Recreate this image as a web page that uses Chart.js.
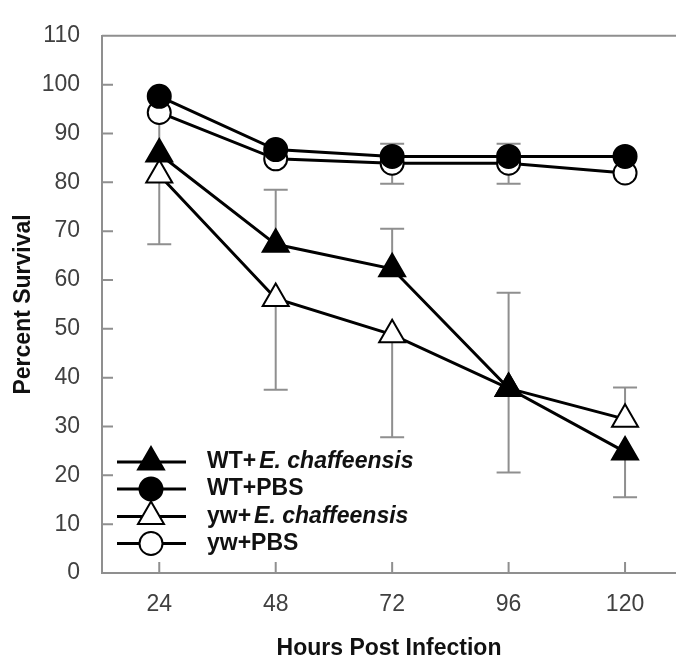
<!DOCTYPE html>
<html>
<head>
<meta charset="utf-8">
<script src="https://cdn.jsdelivr.net/npm/chart.js@4.4.1/dist/chart.umd.min.js"></script>
<style>
  body { margin: 0; background: #fff; }
  canvas { display: block; }
</style>
</head>
<body>
<canvas id="grafico" width="676" height="660"></canvas>
<script>
// Datos
const horas = [24, 48, 72, 96, 120];
const nombres = ['WT+E. chaffeensis', 'WT+PBS', 'yw+E. chaffeensis', 'yw+PBS'];

const wtEch = [85.8, 67.3, 62.3, 37.8, 24.8];
const wtPbs = [97.6, 86.7, 85.3, 85.3, 85.3];
const ywEch = [81.5, 56.2, 48.8, 37.8, 31.5];
const ywPbs = [94.3, 84.8, 83.9, 83.9, 81.9];

// Barras de error (solo se ven hacia un lado en la figura)
const wtEchMas = [0, 11.2, 8.2, 19.6, 0];
const wtEchMenos = [0, 0, 0, 0, 9.3];
const wtPbsMas = [0, 0, 2.6, 2.6, 0];
const ywEchMas = [0, 0, 0, 0, 6.5];
const ywEchMenos = [14.2, 18.7, 21, 17.2, 0];
const ywPbsMenos = [9.8, 0, 4.2, 4.2, 0];

const yTicks = [0, 10, 20, 30, 40, 50, 60, 70, 80, 90, 100, 110];

const FUENTE = '"Liberation Sans", Arial, sans-serif';
const GRIS = '#8f8f8f';

function puntos(valores) {
    return horas.map((h, i) => ({ x: h, y: valores[i] }));
}

function serie(nombre, valores, estilo, relleno, radio, mas, menos) {
    return {
        label: nombre,
        data: puntos(valores),
        borderColor: '#000',
        borderWidth: 3,
        pointStyle: estilo,
        pointRadius: radio,
        pointHoverRadius: radio,
        pointBackgroundColor: relleno,
        pointBorderColor: '#000',
        pointBorderWidth: 2,
        fill: false,
        tension: 0,
        clip: false,
        errMas: mas,
        errMenos: menos
    };
}

const datasets = [
    serie(nombres[0], wtEch, 'triangle', '#000', 15, wtEchMas, wtEchMenos),
    serie(nombres[1], wtPbs, 'circle', '#000', 11.5, wtPbsMas, null),
    serie(nombres[2], ywEch, 'triangle', '#fff', 15, ywEchMas, ywEchMenos),
    serie(nombres[3], ywPbs, 'circle', '#fff', 11.5, null, ywPbsMenos)
];

// Marco superior, marcas hacia adentro y barras de error
const extras = {
    id: 'extras',
    beforeDatasetsDraw(chart) {
        const { ctx, chartArea, scales } = chart;
        const x = scales.x, y = scales.y;
        ctx.save();
        ctx.strokeStyle = GRIS;
        ctx.lineWidth = 2;
        ctx.beginPath();
        ctx.moveTo(chartArea.left, chartArea.top);
        ctx.lineTo(chartArea.right, chartArea.top);
        y.ticks.forEach(t => {
            const py = y.getPixelForValue(t.value);
            ctx.moveTo(chartArea.left, py);
            ctx.lineTo(chartArea.left + 11, py);
        });
        x.ticks.forEach(t => {
            const px = x.getPixelForValue(t.value);
            ctx.moveTo(px, chartArea.bottom);
            ctx.lineTo(px, chartArea.bottom - 11);
        });
        ctx.stroke();

        // barras de error
        ctx.beginPath();
        chart.data.datasets.forEach(ds => {
            ds.data.forEach((p, i) => {
                const px = x.getPixelForValue(p.x);
                const py = y.getPixelForValue(p.y);
                [[ds.errMas, 1], [ds.errMenos, -1]].forEach(([arr, s]) => {
                    if (!arr || !arr[i]) return;
                    const pe = y.getPixelForValue(p.y + s * arr[i]);
                    ctx.moveTo(px, py);
                    ctx.lineTo(px, pe);
                    ctx.moveTo(px - 12, pe);
                    ctx.lineTo(px + 12, pe);
                });
            });
        });
        ctx.stroke();
        ctx.restore();
    },
    afterDraw(chart) {
        // leyenda dentro del gráfico
        const { ctx } = chart;
        const filas = [462, 489, 516.5, 543.5];
        ctx.save();
        chart.data.datasets.forEach((ds, i) => {
            const yy = filas[i];
            ctx.strokeStyle = '#000';
            ctx.lineWidth = 3;
            ctx.beginPath();
            ctx.moveTo(117, yy);
            ctx.lineTo(186, yy);
            ctx.stroke();
            ctx.fillStyle = ds.pointBackgroundColor;
            ctx.strokeStyle = '#000';
            ctx.lineWidth = 2;
            Chart.helpers.drawPoint(ctx, {
                pointStyle: ds.pointStyle,
                radius: ds.pointRadius,
                borderWidth: 2,
                rotation: 0
            }, 151, yy);

            ctx.fillStyle = '#111';
            ctx.textBaseline = 'middle';
            ctx.textAlign = 'left';
            const k = ds.label.indexOf('E. chaffeensis');
            let tx = 207;
            if (k >= 0) {
                const a = ds.label.slice(0, k);
                ctx.font = 'bold 23px ' + FUENTE;
                ctx.fillText(a, tx, yy);
                tx += ctx.measureText(a).width + 3;
                ctx.font = 'italic bold 23px ' + FUENTE;
                ctx.fillText(ds.label.slice(k), tx, yy);
            } else {
                ctx.font = 'bold 23px ' + FUENTE;
                ctx.fillText(ds.label, tx, yy);
            }
        });
        ctx.restore();
    }
};

new Chart(document.getElementById('grafico').getContext('2d'), {
    type: 'line',
    data: { datasets: datasets },
    options: {
        responsive: false,
        animation: false,
        devicePixelRatio: 1,
        layout: { autoPadding: false, padding: { top: 19, left: 0, right: 0, bottom: 0 } },
        plugins: {
            legend: { display: false },
            tooltip: { enabled: false }
        },
        scales: {
            x: {
                type: 'linear',
                min: 12.2,
                max: 130.5,
                afterBuildTicks: s => { s.ticks = horas.map(v => ({ value: v })); },
                afterFit: s => {
                    s.height = 87;
                    s.paddingLeft = 0;
                    s.paddingRight = 0;
                },
                grid: { display: false, drawTicks: false },
                border: { color: GRIS, width: 2 },
                ticks: {
                    padding: 18,
                    color: '#404040',
                    font: { family: FUENTE, size: 23 },
                    maxRotation: 0
                },
                title: {
                    display: true,
                    text: 'Hours Post Infection',
                    color: '#111',
                    font: { family: FUENTE, size: 23, weight: 'bold', lineHeight: 1 },
                    padding: { top: 0, bottom: 0 }
                }
            },
            y: {
                min: 0,
                max: 110,
                afterBuildTicks: s => { s.ticks = yTicks.map(v => ({ value: v })); },
                afterFit: s => { s.width = 102; },
                grid: { display: false, drawTicks: false },
                border: { color: GRIS, width: 2 },
                ticks: {
                    padding: 22,
                    color: '#404040',
                    font: { family: FUENTE, size: 23 }
                },
                title: {
                    display: true,
                    text: 'Percent Survival',
                    color: '#111',
                    font: { family: FUENTE, size: 23, weight: 'bold', lineHeight: 1 },
                    padding: { top: 12, bottom: 0 }
                }
            }
        }
    },
    plugins: [extras]
});
</script>
</body>
</html>
